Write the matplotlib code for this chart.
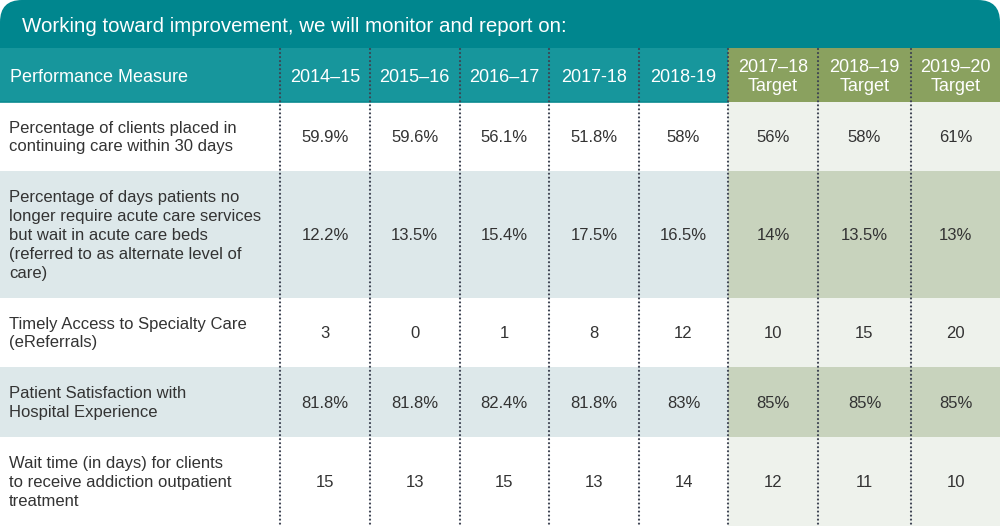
import matplotlib
matplotlib.use("Agg")
import matplotlib.pyplot as plt
from matplotlib.patches import Rectangle, FancyBboxPatch

plt.rcParams['font.family'] = ['Liberation Sans', 'DejaVu Sans']

title = "Working toward improvement, we will monitor and report on:"
col_headers = ["Performance Measure", "2014–15", "2015–16", "2016–17", "2017-18", "2018-19",
               "2017–18\nTarget", "2018–19\nTarget", "2019–20\nTarget"]
measures = [
    "Percentage of clients placed in\ncontinuing care within 30 days",
    "Percentage of days patients no\nlonger require acute care services\nbut wait in acute care beds\n(referred to as alternate level of\ncare)",
    "Timely Access to Specialty Care\n(eReferrals)",
    "Patient Satisfaction with\nHospital Experience",
    "Wait time (in days) for clients\nto receive addiction outpatient\ntreatment",
]
v_2014_15 = ["59.9%", "12.2%", "3", "81.8%", "15"]
v_2015_16 = ["59.6%", "13.5%", "0", "81.8%", "13"]
v_2016_17 = ["56.1%", "15.4%", "1", "82.4%", "15"]
v_2017_18 = ["51.8%", "17.5%", "8", "81.8%", "13"]
v_2018_19 = ["58%", "16.5%", "12", "83%", "14"]
t_2017_18 = ["56%", "14%", "10", "85%", "12"]
t_2018_19 = ["58%", "13.5%", "15", "85%", "11"]
t_2019_20 = ["61%", "13%", "20", "85%", "10"]
columns = [v_2014_15, v_2015_16, v_2016_17, v_2017_18, v_2018_19, t_2017_18, t_2018_19, t_2019_20]
n_actual = 5

# layout (pixel units)
W, H = 1000, 526
xb = [0, 280, 370, 459.5, 549, 639, 728, 818, 911, 1000]
yb = [102, 171, 298, 367, 437, 526]
title_top, head_top, head_bot = 0, 48, 102

c_title = "#00868e"
c_head = "#17969c"
c_head_t = "#8aa15f"
c_grey = "#dde8ea"
c_tgt_light = "#eef2ec"
c_tgt_grey = "#c8d3bd"
c_text = "#333333"
c_dots = "#3d4352"

fig = plt.figure(figsize=(10, 5.26), dpi=100)
ax = fig.add_axes([0, 0, 1, 1])
ax.set_xlim(0, W)
ax.set_ylim(H, 0)
ax.axis("off")

# title band with rounded top corners
ax.add_patch(FancyBboxPatch((0, 0), W, head_top + 30, boxstyle="round,pad=0,rounding_size=22",
                            fc=c_title, ec="none", mutation_aspect=1))
ax.add_patch(Rectangle((0, 30), W, head_top - 30, fc=c_title, ec="none"))
ax.text(22, 27, title, color="white", fontsize=14.8, va="center", ha="left")

# header row
ax.add_patch(Rectangle((0, head_top), xb[n_actual + 1], head_bot - head_top, fc=c_head, ec="none"))
ax.add_patch(Rectangle((xb[n_actual + 1], head_top), W - xb[n_actual + 1], head_bot - head_top,
                       fc=c_head_t, ec="none"))
ax.plot([0, xb[n_actual + 1]], [head_bot - 0.5, head_bot - 0.5], color="#0b8a90", lw=1.2)

for i, h in enumerate(col_headers):
    if i == 0:
        ax.text(10, 77, h, color="white", fontsize=13, va="center", ha="left")
    else:
        cx = (xb[i] + xb[i + 1]) / 2
        ax.text(cx, 77, h, color="white", fontsize=13, va="center", ha="center", linespacing=1.2)

# body rows
for r in range(len(measures)):
    y0, y1 = yb[r], yb[r + 1]
    grey = (r % 2 == 1)
    ax.add_patch(Rectangle((0, y0), xb[n_actual + 1], y1 - y0,
                           fc=c_grey if grey else "white", ec="none"))
    ax.add_patch(Rectangle((xb[n_actual + 1], y0), W - xb[n_actual + 1], y1 - y0,
                           fc=c_tgt_grey if grey else c_tgt_light, ec="none"))
    cy = (y0 + y1) / 2 + 1
    ax.text(9, cy, measures[r], color=c_text, fontsize=12, va="center", ha="left", linespacing=1.32)
    for c, col in enumerate(columns):
        cx = (xb[c + 1] + xb[c + 2]) / 2
        ax.text(cx, cy, col[r], color=c_text, fontsize=12, va="center", ha="center")

# dotted separators
for x in xb[1:-1]:
    ax.plot([x, x], [head_top + 1, H], color=c_dots, lw=1.6, linestyle=(0, (0.01, 1.8)),
            dash_capstyle="round", solid_capstyle="round")

fig.savefig("out.png", dpi=100)
